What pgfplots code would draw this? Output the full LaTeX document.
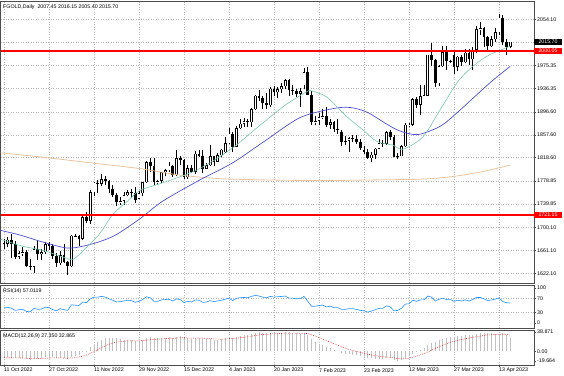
\documentclass[border=0pt]{standalone}
\usepackage{pgfplots}
\pgfplotsset{compat=1.18}
\usepackage{pgfplotstable}
\usepackage{fontspec}
\setmainfont{Liberation Sans}
\definecolor{maG}{RGB}{120,200,170}
\definecolor{maB}{RGB}{80,80,210}
\definecolor{maT}{RGB}{232,196,160}
\definecolor{rsiC}{RGB}{30,144,255}
\definecolor{gridC}{RGB}{185,185,185}
\definecolor{histC}{RGB}{192,192,192}
\definecolor{mtred}{RGB}{255,0,0}
\newcommand\mtf{\fontsize{5.3}{6}\selectfont}

\pgfplotstableread{
i o h l c
0 1674 1681 1664 1672
1 1672 1683 1666 1679
2 1679 1688 1648 1672
3 1672 1677 1646 1650
4 1650 1660 1646 1656
5 1656 1666 1651 1658
6 1658 1662 1633 1635
7 1635 1646 1627 1633
8 1633 1668 1623 1663
9 1663 1677 1645 1655
10 1655 1663 1644 1658
11 1658 1675 1654 1671
12 1671 1676 1661 1669
13 1669 1672 1646 1651
14 1651 1656 1633 1639
15 1639 1660 1636 1653
16 1653 1671 1640 1642
17 1642 1643 1619 1635
18 1634 1687 1633 1686
19 1686 1688 1683 1685
20 1685 1687 1669 1681
21 1681 1721 1678 1717
22 1717 1727 1707 1711
23 1711 1763 1705 1760
24 1760 1777 1753 1776
25 1776 1780 1759 1774
26 1774 1791 1771 1782
27 1782 1788 1772 1779
28 1779 1780 1759 1766
29 1766 1772 1752 1756
30 1756 1758 1737 1743
31 1743 1751 1739 1745
32 1745 1760 1738 1755
33 1755 1764 1753 1760
34 1760 1765 1750 1758
35 1758 1769 1742 1746
36 1749 1762 1748 1758
37 1758 1777 1753 1777
38 1777 1813 1775 1811
39 1811 1818 1794 1805
40 1805 1818 1773 1777
41 1777 1781 1772 1779
42 1779 1795 1776 1794
43 1794 1800 1787 1797
44 1797 1812 1794 1805
45 1805 1806 1785 1789
46 1789 1832 1787 1818
47 1818 1822 1807 1815
48 1815 1817 1782 1785
49 1785 1806 1782 1801
50 1801 1807 1792 1795
51 1795 1830 1791 1825
52 1825 1831 1819 1822
53 1822 1831 1793 1800
54 1800 1810 1799 1806
55 1806 1841 1805 1821
56 1821 1822 1804 1812
57 1812 1827 1811 1823
58 1823 1834 1820 1832
59 1828 1854 1827 1843
60 1843 1869 1842 1859
61 1859 1862 1829 1837
62 1837 1873 1836 1869
63 1869 1885 1868 1876
64 1876 1886 1871 1881
65 1881 1884 1871 1879
66 1879 1903 1871 1901
67 1901 1926 1899 1924
68 1924 1933 1915 1920
69 1920 1924 1901 1912
70 1912 1928 1902 1908
71 1908 1939 1905 1936
72 1936 1941 1924 1930
73 1930 1939 1920 1935
74 1935 1946 1929 1940
75 1940 1953 1936 1950
76 1950 1953 1923 1934
77 1934 1942 1926 1932
78 1932 1936 1921 1927
79 1927 1937 1904 1932
80 1942 1971 1935 1964
81 1964 1973 1925 1926
82 1926 1932 1875 1879
83 1879 1889 1874 1881
84 1881 1894 1874 1887
85 1887 1902 1884 1889
86 1889 1904 1870 1875
87 1875 1884 1867 1879
88 1879 1881 1863 1868
89 1868 1885 1859 1866
90 1863 1866 1839 1846
91 1846 1856 1841 1847
92 1847 1853 1829 1852
93 1852 1857 1845 1850
94 1850 1857 1842 1845
95 1845 1850 1832 1835
96 1832 1838 1825 1829
97 1829 1834 1816 1818
98 1818 1829 1811 1824
99 1824 1835 1817 1834
100 1834 1851 1834 1843
101 1843 1848 1836 1842
102 1842 1864 1841 1862
103 1862 1865 1848 1854
104 1854 1858 1819 1820
105 1820 1826 1816 1821
106 1821 1841 1821 1838
107 1838 1877 1837 1875
108 1873 1877 1871 1875
109 1875 1920 1873 1918
110 1918 1922 1903 1909
111 1909 1942 1891 1923
112 1923 1942 1922 1925
113 1924 1994 1923 1994
114 1994 2014 1975 1984
115 1984 1987 1939 1945
116 1945 1977 1940 1974
117 1974 2008 1972 1998
118 1998 2008 1967 1983
119 1983 1985 1980 1981
120 1994 2000 1961 1973
121 1973 1992 1966 1990
122 1990 1993 1975 1981
123 1981 2003 1980 1997
124 1997 2004 1977 1986
125 1986 2007 1967 2002
126 2002 2043 1997 2037
127 2037 2049 2028 2039
128 2039 2041 2007 2024
129 2024 2025 1998 2008
130 2008 2025 2007 2020
131 2020 2040 2016 2032
132 2032 2063 2028 2057
133 2057 2062 2010 2016
134 2016 2021 1994 2007.45
135 2007.45 2016.15 2005.40 2015.70
}\ohlc

\pgfplotstableread{
i r m s
0 42 -12 -13
1 45 -11 -13
2 42 -12 -13
3 36 -14 -13.2
4 38 -14 -13.4
5 39 -14 -13.5
6 33 -16 -14
7 32 -18 -14.8
8 42 -15 -14.8
9 39 -15 -14.9
10 40 -14 -14.7
11 45 -12 -14.2
12 44 -11 -13.6
13 38 -12 -13.3
14 35 -14 -13.4
15 41 -13 -13.3
16 38 -14 -13.5
17 36 -16 -14
18 52 -11 -13.4
19 51 -9 -12.5
20 50 -7 -11.4
21 60 -2 -9.5
22 58 1 -7.4
23 69 8 -4.3
24 74 14 -0.6
25 74 19 3.3
26 76 23 7.2
27 74 26 11
28 69 27 14.2
29 65 27 16.8
30 60 26 18.6
31 61 24 19.7
32 63 23 20.4
33 65 23 20.9
34 64 22 21.1
35 59 21 21.1
36 62 21 21.1
37 67 22 21.3
38 75 26 22.2
39 72 28 23.4
40 62 27 24.1
41 62 26 24.5
42 66 27 25
43 67 27 25.4
44 68 28 25.9
45 63 27 26.1
46 69 29 26.7
47 67 30 27.4
48 58 27 27.3
49 62 26 27
50 60 25 26.6
51 66 27 26.7
52 65 27 26.8
53 59 25 26.4
54 60 24 25.9
55 64 24 25.5
56 61 23 25
57 63 23 24.6
58 65 24 24.5
59 68 26 24.8
60 71 28 25.4
61 64 27 25.7
62 71 29 26.4
63 72 31 27.3
64 73 32 28.2
65 72 33 29.2
66 76 35 30.4
67 79 37 31.7
68 77 38 33
69 74 37 33.8
70 72 36 34.2
71 76 37 34.8
72 74 37 35.2
73 75 37 35.6
74 76 37 35.9
75 77 38.871 36.5
76 71 38 36.8
77 71 37 36.8
78 69 36 36.6
79 70 35 36.3
80 76 36 36.2
81 62 33 35.6
82 48 25 33.5
83 48 19 30.6
84 50 15 27.5
85 51 12 24.4
86 46 9 21.3
87 48 6 18.2
88 44 3 15.2
89 44 0 12.2
90 39 -3 9.2
91 39 -5 6.4
92 41 -6 3.9
93 41 -7 1.7
94 39 -8 -0.2
95 36 -10 -2.2
96 35 -11 -4
97 31 -13 -5.8
98 34 -14 -7.4
99 38 -15 -8.9
100 42 -15 -10.1
101 42 -15 -11.1
102 49 -14 -11.7
103 46 -14 -12.2
104 35 -17 -13.2
105 36 -19.664 -14.5
106 42 -18 -15.2
107 54 -13 -14.8
108 55 -10 -13.8
109 65 -5 -12
110 62 -1 -9.8
111 66 3 -7.2
112 66 6 -4.6
113 77 12 -1.3
114 74 17 2.4
115 63 19 5.7
116 68 22 9
117 71 25 12.2
118 67 27 15.2
119 67 28 17.8
120 62 29 20
121 65 30 22
122 63 31 23.8
123 66 32 25.4
124 63 33 26.9
125 67 33 28.1
126 73 34 29.3
127 73 36 30.6
128 69 37 31.9
129 64 37 32.9
130 66 36 33.5
131 68 35 33.8
132 72 35 34.1
133 61 36 34.5
134 58 32 34
135 57.0119 27.35 32.865
}\ind

\pgfplotsset{
  mt/.style={
    scale only axis, width=533.5bp, xmin=-0.93, xmax=141.33,
    clip mode=individual,
    axis line style={draw=black!70, line width=0.6bp},
    tick label style={font=\mtf, text=black},
    xtick={0,12,...,132}, xmajorgrids,
    grid style={gridC, dash pattern=on 1bp off 1.5bp, line width=0.4bp},
    ytick pos=right, yticklabel pos=right, tick align=outside,
    major tick length=2bp, tick style={black!70, line width=0.4bp},
    yticklabel style={anchor=west, inner sep=0pt, xshift=1bp},
  },
}

\begin{document}
\begin{tikzpicture}
\path[use as bounding box] (0,0) rectangle (564bp,376bp);

% ---------------- main price panel ----------------
\begin{axis}[mt, at={(0.5bp,375bp)}, anchor=north west, height=282bp,
  ymin=1605.5, ymax=2085.1,
  ytick={1622.10,1661.10,1700.10,1739.85,1778.85,1818.60,1857.60,1896.60,1936.35,1975.35,2015.10,2054.10},
  yticklabels={1622.10,1661.10,1700.10,1739.85,1778.85,1818.60,1857.60,1896.60,1936.35,1975.35,,2054.10},
  ymajorgrids, xticklabels={}, xtick style={draw=none}]
  % wicks
  \addplot[draw=black, line width=0.6bp, quiver={u=0, v={\thisrow{h}-\thisrow{l}}}]
    table[x=i, y=l] {\ohlc};
  % bodies
  \addplot[draw=black, line width=2.7bp, quiver={u=0, v={\thisrow{c}-\thisrow{o}}}]
    table[x=i, y=o] {\ohlc};
  % hollow bull bodies
  \addplot[draw=white, line width=1.2bp, quiver={u=0, v={max(\thisrow{c}-\thisrow{o}-1.8,0)}}]
    table[x=i, y expr=\thisrow{o}+0.9] {\ohlc};
  % moving averages
  \addplot[draw=maT, line width=0.8bp, smooth] coordinates {
    (-0.93,1827) (12.3,1818) (25.6,1808) (36.3,1800) (46.9,1789) (57.6,1783)
    (68.3,1781) (79,1780) (89.6,1780) (100.3,1781) (110.9,1782) (118.9,1786)
    (126.9,1794) (135,1806)};
  \addplot[draw=maB, line width=0.7bp, smooth] coordinates {
    (-0.93,1695) (4.3,1687) (10.4,1675) (16.8,1665) (21,1668) (25.6,1676)
    (30,1688) (36.3,1715) (42.4,1745) (52.3,1781) (61,1810) (70,1849) (79,1887)
    (87.7,1902) (92.3,1904) (96.8,1896) (102,1876) (105.6,1864) (110.4,1858)
    (116.3,1872) (120.8,1895) (129.6,1946) (135,1974)};
  \addplot[draw=maG, line width=0.6bp, smooth] coordinates {
    (-0.93,1680) (5,1668) (10.4,1661) (16,1649) (18.5,1646) (22,1666)
    (25.6,1690) (29,1722) (33,1745) (36.3,1763) (42.4,1776) (51.5,1798)
    (60.3,1832) (68.5,1875) (75,1908) (80.8,1931) (82,1932) (86,1922)
    (91.5,1888) (95.7,1866) (99.5,1846) (103.7,1840) (106.4,1833) (111.7,1854)
    (116.3,1900) (120.8,1946) (125,1974) (129.6,1994) (135,2008)};
  % horizontal levels
  \addplot[draw=mtred, line width=1.2bp] coordinates {(-0.93,2000.05) (141.33,2000.05)};
  \addplot[draw=mtred, line width=1.2bp] coordinates {(-0.93,1721.15) (141.33,1721.15)};
  % labels
  \node[anchor=north west, font=\mtf, inner sep=0pt, text=black] at (rel axis cs:0,1) [xshift=2.5bp, yshift=-3.5bp]
    {FGOLD,Daily\ \ 2007.45 2016.15 2005.40 2015.70};
  \node[fill=black, text=white, anchor=west, font=\mtf, inner xsep=4.3bp, inner ysep=0.9bp]
    at (axis cs:141.33,2015.70) {2015.70};
  \node[fill=mtred, text=white, anchor=west, font=\mtf, inner xsep=4.3bp, inner ysep=0.9bp]
    at (axis cs:141.33,2000.05) {2000.05};
  \node[fill=mtred, text=white, anchor=west, font=\mtf, inner xsep=4.3bp, inner ysep=0.9bp]
    at (axis cs:141.33,1721.15) {1721.15};
\end{axis}

% ---------------- RSI panel ----------------
\begin{axis}[mt, at={(0.5bp,91bp)}, anchor=north west, height=43bp,
  ymin=-14.3, ymax=108.6, ytick={0,30,70,100}, yticklabels={0,30,70,100},
  xticklabels={}, xtick style={draw=none}]
  \addplot[draw=gridC, dash pattern=on 1bp off 1.5bp, line width=0.4bp] coordinates {(-0.93,30) (141.33,30)};
  \addplot[draw=gridC, dash pattern=on 1bp off 1.5bp, line width=0.4bp] coordinates {(-0.93,70) (141.33,70)};
  \addplot[draw=rsiC, line width=0.6bp] table[x=i, y=r] {\ind};
  \node[anchor=north west, font=\mtf, inner sep=0pt, text=black] at (rel axis cs:0,1) [xshift=2.5bp, yshift=-3bp]
    {RSI(14) 57.0119};
\end{axis}

% ---------------- MACD panel ----------------
\begin{axis}[mt, at={(0.5bp,46bp)}, anchor=north west, height=35bp,
  ymin=-27.6, ymax=42.9, ytick={-19.664,0,38.871}, yticklabels={-19.664,0.00,38.871},
  xtick pos=bottom,
  xticklabels={11 Oct 2022,27 Oct 2022,11 Nov 2022,29 Nov 2022,15 Dec 2022,4 Jan 2023,20 Jan 2023,7 Feb 2023,23 Feb 2023,12 Mar 2023,27 Mar 2023,13 Apr 2023},
  xticklabel style={anchor=north west, inner sep=0pt, yshift=-1bp}]
  \addplot[draw=histC, line width=0.6bp, quiver={u=0, v={\thisrow{m}}}] table[x=i, y expr=0] {\ind};
  \addplot[draw=mtred, line width=0.55bp, dash pattern=on 0.6bp off 1.2bp] table[x=i, y=s] {\ind};
  \node[anchor=north west, font=\mtf, inner sep=0pt, text=black] at (rel axis cs:0,1) [xshift=2.5bp, yshift=-3bp]
    {MACD(12,26,9) 27.350 32.865};
\end{axis}
\end{tikzpicture}
\end{document}
